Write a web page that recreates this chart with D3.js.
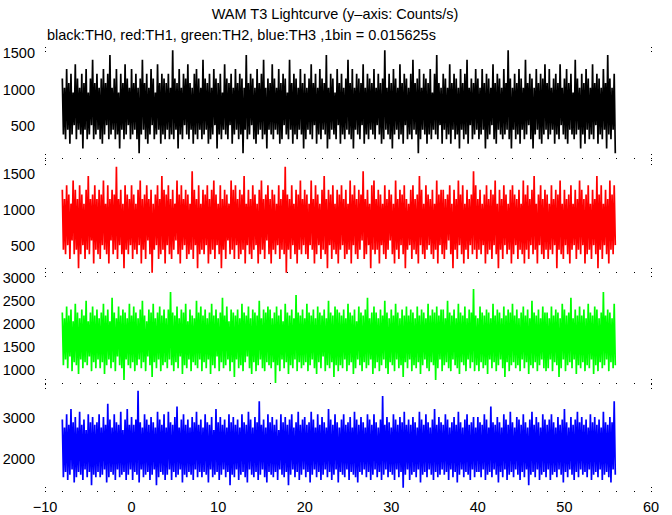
<!DOCTYPE html>
<html>
<head>
<meta charset="utf-8">
<script src="https://cdn.jsdelivr.net/npm/d3@7"></script>
<style>
  html, body { margin: 0; padding: 0; background: #fff; }
  svg { display: block; }
  text { font-family: "Liberation Sans", Arial, Helvetica, sans-serif; fill: #000; }
</style>
</head>
<body>
<svg id="chart" width="672" height="515"></svg>
<script>
// ---------------- data ----------------
const titleText = "WAM T3 Lightcurve (y\u2013axis: Counts/s)";
const subtitleText = "black:TH0, red:TH1, green:TH2, blue:TH3 ,1bin = 0.015625s";
const binWidth = 0.015625;  // s, counts below are counts per 1bin
const timeStart = -8;       // s
const timeEnd = 56;         // s
const xTickValues = [-10, 0, 10, 20, 30, 40, 50, 60];
const xMinorTicks = [-10,-8,-6,-4,-2,0,2,4,6,8,10,12,14,16,18,20,22,24,26,28,30,32,34,36,38,40,42,44,46,48,50,52,54,56,58,60];

const seriesNames = ["TH0", "TH1", "TH2", "TH3"];
const seriesColors = ["#000000", "#ff0000", "#00ff00", "#0000ff"];
const yTicks0 = [500, 1000, 1500];
const yTicks1 = [500, 1000, 1500];
const yTicks2 = [1000, 1500, 2000, 2500, 3000];
const yTicks3 = [2000, 3000];
const yDomain0 = [62, 1582];
const yDomain1 = [139, 1694];
const yDomain2 = [701, 3124];
const yDomain3 = [1202, 3812];

const th0Counts = [
18,6,16,5,20,7,17,4,19,6,15,8,21,5,18,7, 16,6,19,3,17,7,20,5,15,6,18,8,22,5,17,6,
19,7,16,5,18,4,20,6,17,8,19,5,23,6,16,7, 18,5,20,6,15,3,19,7,17,5,21,6,18,8,16,5,
20,6,17,7,19,5,16,2,18,6,22,7,17,5,19,4, 16,6,20,8,18,5,15,6,21,7,17,4,19,6,18,5,
17,7,19,5,16,6,24,5,18,7,17,3,20,6,16,5, 19,8,18,6,21,5,17,7,16,4,19,6,20,5,18,7,
16,5,22,6,18,7,17,4,19,5,16,6,20,8,18,3, 17,6,19,5,15,7,21,6,18,5,17,8,19,4,16,6,
20,7,17,5,19,6,18,2,16,7,23,5,17,6,19,8, 18,5,16,4,20,6,17,7,19,5,22,6,16,3,18,7,
17,6,21,5,18,7,16,6,20,4,17,5,19,8,18,6, 15,5,22,7,17,4,19,6,18,5,16,7,20,6,17,3,
19,5,16,7,18,6,21,5,17,8,19,4,16,6,20,5, 18,7,17,6,23,3,16,5,19,7,18,6,15,5,20,8,
17,4,19,6,16,5,18,7,22,6,17,5,20,3,16,7, 19,6,18,5,17,8,21,4,16,6,19,5,18,7,17,6,
20,5,16,8,19,6,17,4,18,5,24,7,16,6,19,5, 17,3,20,6,18,7,16,5,21,6,17,4,19,8,18,5,
16,6,19,5,22,7,17,6,18,2,20,5,16,7,19,6, 18,4,17,6,20,5,15,7,19,6,23,5,17,8,16,4,
19,7,18,5,16,6,21,4,17,7,19,5,18,6,16,3, 20,7,17,5,19,6,22,4,16,8,18,5,17,6,20,7,
18,5,16,6,20,7,17,3,19,5,18,6,16,8,21,5, 17,4,19,7,18,6,16,5,20,6,17,7,24,5,18,3,
16,7,19,5,17,6,20,4,18,7,16,5,22,6,17,8, 19,5,18,3,16,6,20,7,17,5,19,4,18,6,21,7,
17,5,20,6,16,7,18,4,19,6,17,5,21,8,16,6, 18,5,20,4,17,7,19,6,15,5,22,6,18,7,16,3,
19,6,17,4,20,7,18,5,16,6,21,5,17,8,19,4, 18,6,16,5,20,7,17,3,23,6,18,5,16,7,19,2
];
const th1Counts = [
20,7,18,6,21,8,19,5,17,9,22,6,20,7,18,3, 21,6,19,8,17,5,20,7,23,6,18,9,19,4,21,7,
18,6,20,5,19,8,22,7,17,6,21,4,18,9,20,6, 19,7,25,5,18,8,20,6,17,3,21,7,19,6,18,8,
21,5,19,7,17,6,20,8,22,4,18,7,19,5,21,9, 18,6,20,2,17,7,19,8,21,5,18,6,23,7,20,4,
19,8,21,6,18,5,20,7,17,9,22,6,19,4,21,7, 18,8,20,5,19,6,17,7,24,5,20,8,18,3,21,6,
17,7,20,6,19,8,21,4,18,6,20,7,22,5,19,8, 17,6,21,3,18,7,20,5,19,9,17,6,22,7,20,5,
21,8,18,5,20,6,19,7,23,4,17,8,20,6,18,5, 21,7,19,8,17,4,20,6,22,7,18,5,19,9,21,6,
18,4,20,7,19,6,17,8,21,5,18,7,20,6,25,2, 19,7,18,5,21,8,17,6,20,4,19,7,22,6,18,8,
20,6,19,5,17,8,22,7,18,4,21,6,19,8,17,5, 20,7,23,6,18,3,20,8,19,5,21,7,17,6,20,4,
19,7,21,8,18,5,20,6,17,7,22,4,19,8,21,6, 18,5,20,7,19,9,24,5,18,6,20,8,17,3,21,7,
22,6,18,7,20,4,19,8,17,6,21,5,18,7,20,9, 19,6,17,4,22,7,18,5,20,8,19,6,21,3,18,7,
17,8,20,5,21,7,18,6,19,4,23,8,20,6,17,5, 21,7,19,8,18,6,20,5,17,7,22,4,19,8,20,6,
20,5,18,7,19,9,21,6,17,3,20,7,18,5,22,8, 19,6,21,4,17,7,20,5,18,8,19,6,24,7,21,5,
18,7,20,6,17,8,19,4,21,6,18,7,20,5,19,8, 22,6,17,3,20,7,18,5,21,8,19,6,17,7,20,4,
21,6,19,8,18,5,20,7,17,6,22,4,19,7,21,5, 18,8,20,6,23,7,17,4,19,8,21,6,18,5,20,7,
19,5,17,7,21,6,18,8,20,3,19,7,22,6,17,5, 20,8,18,6,19,4,21,7,17,8,20,5,18,7,22,6,
20,8,18,4,19,6,21,7,17,5,20,8,18,6,23,3, 19,7,21,5,17,8,20,6,18,4,22,7,19,6,21,8
];
const th2Counts = [
35,17,33,19,37,16,34,20,36,15,32,18,38,17,35,14, 33,19,36,16,34,18,39,17,32,20,35,15,37,18,34,16,
36,19,33,16,35,18,38,14,34,17,36,19,32,16,40,18, 35,15,33,20,37,17,34,16,36,12,35,19,33,17,38,16,
34,18,37,15,35,17,33,19,36,16,39,18,34,15,32,20, 36,17,35,13,38,18,33,16,35,19,37,15,34,17,36,18,
33,16,36,19,42,17,35,15,34,18,37,16,33,20,36,14, 35,17,38,16,32,19,36,15,34,18,33,17,39,16,35,19,
37,15,34,18,36,16,33,19,35,14,38,17,34,16,36,20, 33,15,35,18,40,16,34,17,37,19,32,15,36,18,35,13,
34,19,36,16,33,17,38,15,35,18,34,20,37,16,33,14, 36,18,35,15,34,17,39,19,33,16,36,15,35,18,37,17,
36,16,33,18,35,11,37,17,34,15,36,19,32,16,38,18, 35,14,34,17,36,16,33,19,41,15,35,18,34,16,36,17,
33,18,38,15,35,17,34,19,36,16,33,14,37,18,35,16, 34,20,36,15,33,17,39,16,35,18,34,13,37,17,36,15,
35,17,34,16,36,19,33,15,38,17,35,18,34,14,36,16, 32,19,37,17,35,15,34,18,36,16,40,17,33,19,35,14,
37,16,35,18,33,15,36,17,34,19,39,16,35,14,33,18, 36,17,34,15,38,19,35,16,33,17,36,13,34,18,37,16,
34,19,36,15,35,17,33,16,37,18,34,14,36,17,35,19, 33,16,38,15,34,18,36,17,35,12,37,16,34,19,36,15,
36,17,33,18,39,16,35,15,34,19,36,17,33,16,38,14, 35,18,34,17,37,15,33,19,36,16,35,18,43,15,34,17,
33,15,37,18,35,16,34,17,36,14,35,19,33,16,38,18, 34,15,36,17,35,19,33,16,37,13,34,18,36,15,35,17,
38,18,34,16,36,17,33,15,35,19,37,16,34,18,36,14, 33,17,39,16,35,18,34,15,36,17,33,19,37,16,35,15,
35,16,33,19,37,15,34,18,36,17,35,13,33,16,38,19, 36,15,34,17,35,18,40,16,33,19,36,14,34,17,37,16,
34,18,36,15,33,17,38,16,35,19,34,14,37,17,36,15, 33,18,35,16,42,17,34,19,36,15,35,18,33,16,38,17
];
const th3Counts = [
46,24,43,26,48,23,44,25,50,27,45,22,47,24,43,26, 49,25,44,23,46,27,42,24,48,26,45,21,47,25,44,24,
45,26,48,24,43,25,47,27,44,22,52,24,46,26,43,25, 48,23,45,27,44,24,49,25,42,26,46,23,50,25,44,27,
47,23,44,26,46,25,57,22,45,27,43,24,48,25,46,26, 44,23,47,25,45,27,43,21,49,24,46,26,44,25,48,23,
43,25,49,27,45,23,44,26,47,24,51,25,43,27,46,22, 48,25,44,24,46,26,43,25,47,23,45,27,49,24,44,26,
46,24,43,26,48,25,45,22,44,27,47,24,42,25,50,26, 45,23,47,25,44,27,46,24,43,26,48,21,45,25,47,24,
44,27,46,23,43,25,48,26,45,24,44,22,49,27,46,25, 43,24,47,26,45,23,53,25,44,27,46,24,43,22,48,26,
45,25,47,24,44,26,46,23,42,27,48,25,45,24,47,26, 44,21,46,25,48,27,43,24,45,26,49,23,44,25,46,27,
47,24,44,26,45,22,49,25,46,27,43,24,48,26,44,23, 47,25,45,27,43,24,50,26,46,23,44,25,48,27,45,22,
43,26,46,25,48,24,44,27,45,23,47,26,43,25,49,24, 46,22,44,26,47,25,45,27,43,24,48,26,46,23,44,25,
48,27,45,24,43,26,46,23,55,25,44,27,47,24,45,26, 43,25,48,23,46,27,44,24,47,26,45,20,49,25,44,27,
46,23,44,25,47,26,45,24,43,27,49,22,46,25,44,26, 48,24,45,27,43,25,46,23,50,26,44,24,47,25,45,27,
44,25,48,26,46,23,43,27,45,24,47,26,44,22,49,25, 45,27,43,24,46,26,48,25,44,23,45,27,47,24,43,26,
47,26,45,24,44,27,48,23,46,25,43,26,51,24,45,27, 44,25,47,22,45,26,43,24,48,27,46,23,44,25,49,26,
45,24,43,27,47,25,46,23,44,26,48,24,45,27,43,21, 46,25,49,26,44,24,47,27,45,23,43,25,48,26,46,24,
44,27,46,23,48,25,45,26,43,24,47,27,44,25,46,22, 50,26,45,24,43,27,47,25,44,23,46,26,49,24,45,27,
47,25,44,26,46,24,43,27,48,23,45,25,47,26,44,24, 46,27,43,23,49,25,45,26,44,24,47,22,45,27,53,25
];

// ---------------- layout ----------------
const svg = d3.select("#chart");
const x = d3.scaleLinear().domain([-10, 60]).range([45, 651]);

const panels = [
  { counts: th0Counts, color: seriesColors[0], ticks: yTicks0, y: d3.scaleLinear().domain(yDomain0).range([158, 47]) },
  { counts: th1Counts, color: seriesColors[1], ticks: yTicks1, y: d3.scaleLinear().domain(yDomain1).range([272, 160]) },
  { counts: th2Counts, color: seriesColors[2], ticks: yTicks2, y: d3.scaleLinear().domain(yDomain2).range([383, 272]) },
  { counts: th3Counts, color: seriesColors[3], ticks: yTicks3, y: d3.scaleLinear().domain(yDomain3).range([491, 384]) }
];

// titles
svg.append("text").attr("x", 335).attr("y", 19).attr("text-anchor", "middle")
  .style("font-size", "14.5px").text(titleText);
svg.append("text").attr("x", 47).attr("y", 40).attr("text-anchor", "start")
  .style("font-size", "14.5px").text(subtitleText);

panels.forEach(p => {
  const rate = p.counts.map(c => c / binWidth);   // counts/s
  const n = rate.length;
  const dt = (timeEnd - timeStart) / n;
  const line = d3.line()
    .x((d, i) => x(timeStart + i * dt))
    .y(d => p.y(d));
  svg.append("path")
    .datum(rate)
    .attr("fill", "none")
    .attr("stroke", p.color)
    .attr("stroke-width", 1.7)
    .attr("stroke-linejoin", "bevel")
    .attr("d", line);

  // y tick labels
  const [lo, hi] = p.y.range();
  svg.append("g").selectAll("text").data(p.ticks).join("text")
    .attr("x", 35).attr("y", d => p.y(d))
    .attr("dy", "0.36em")
    .attr("text-anchor", "end")
    .style("font-size", "14.5px")
    .text(d => d);

  // tiny tick dots on the (invisible) frame
  const g = svg.append("g").attr("fill", "#000");
  g.selectAll("rect.bt").data(xMinorTicks).join("rect")
    .attr("x", d => Math.round(x(d))).attr("y", Math.round(lo)).attr("width", 1).attr("height", 1);
  [x(-10), x(60)].forEach(px => {
    g.append("rect").attr("x", Math.round(px)).attr("y", Math.round(hi)).attr("width", 1).attr("height", 1);
    g.append("rect").attr("x", Math.round(px)).attr("y", Math.round(hi) + 4).attr("width", 1).attr("height", 1);
    g.append("rect").attr("x", Math.round(px)).attr("y", Math.round(lo) - 4).attr("width", 1).attr("height", 1);
  });
});

// x axis labels (below last panel)
svg.append("g").selectAll("text").data(xTickValues).join("text")
  .attr("x", d => x(d)).attr("y", 512)
  .attr("text-anchor", "middle")
  .style("font-size", "14.5px")
  .text(d => d < 0 ? "\u2212" + Math.abs(d) : d);
</script>
</body>
</html>
